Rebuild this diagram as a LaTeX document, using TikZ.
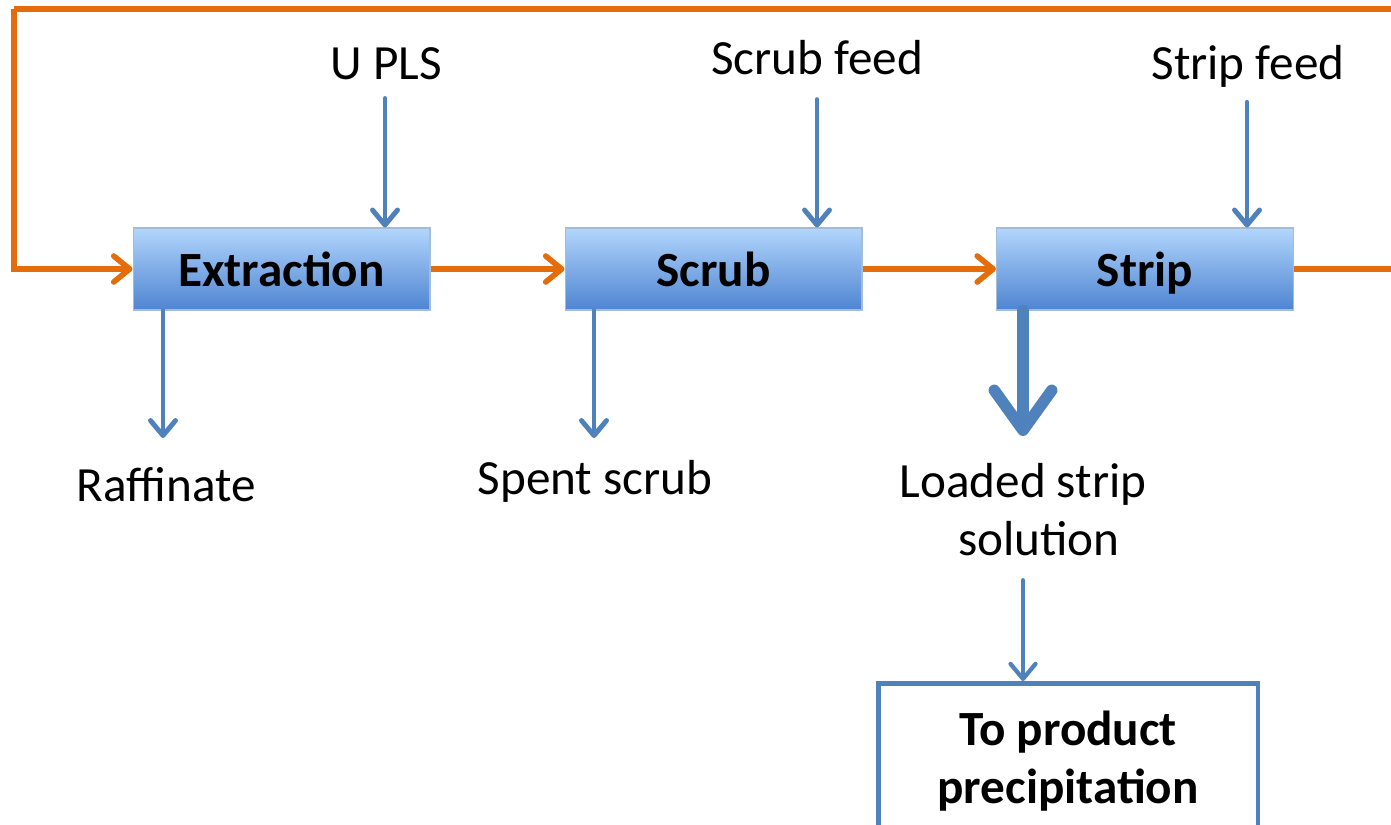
\documentclass[tikz,border=0pt]{standalone}
\usepackage{fontspec}
\setmainfont{Carlito}
\usetikzlibrary{arrows.meta,positioning}
\definecolor{flowblue}{RGB}{79,129,189}
\definecolor{flowred}{RGB}{228,108,10}
\definecolor{boxtop}{RGB}{178,214,252}
\definecolor{boxmid}{RGB}{140,188,245}
\definecolor{boxbot}{RGB}{78,132,210}
\begin{document}
\begin{tikzpicture}[x=0.02cm,y=-0.02cm,font=\fontsize{28}{33}\selectfont,
        stage/.style={minimum width=5.94cm,minimum height=1.64cm,draw=boxtop!70!gray,
            line width=0.6pt,top color=boxtop,middle color=boxmid,bottom color=boxbot,
            text height=0.8cm,text depth=0.08cm,
            font=\fontsize{28}{33}\selectfont\bfseries},
        feed/.style={draw=flowblue,line width=2.8pt,line cap=round,
            -{Straight Barb[length=0.3cm,width=0.5cm,round]}},
        organic/.style={draw=flowred,line width=3.2pt,
            -{Straight Barb[length=0.32cm,width=0.52cm,round]}},
        label/.style={inner sep=0pt}]
    \useasboundingbox (0,0) rectangle (1391,824);
    \clip (0,0) rectangle (1391,824);
    % stages
    \node[stage] (extraction) at (281.5,269) {Extraction};
    \node[stage] (scrub) at (713.5,269) {Scrub};
    \node[stage] (strip) at (1145,269) {Strip};
    % streams in and out
    \node[label] (upls) at (386,64) {U PLS};
    \node[label] (scrubfeed) at (817,58) {Scrub feed};
    \node[label,anchor=base] (stripfeed) at (1248,80) {Strip feed};
    \node[label] (raffinate) at (166,485) {Raffinate};
    \node[label,anchor=base] (spent) at (595,494) {Spent scrub};
    \node[label,align=center,anchor=north] (loaded) at (1023,463)
        {Loaded strip\\\hspace*{0.64cm}solution};
    \node[draw=flowblue,line width=2.8pt,minimum width=7.6cm,minimum height=3.1cm,
        align=center,font=\fontsize{28}{33}\selectfont\bfseries,anchor=north]
        (product) at (1068,681) {To product\\precipitation};
    \coordinate (corner) at (14,9);
    \coordinate (raffout) at (163,438);
    \coordinate (spentout) at (594,438);
    \draw[feed] (upls.south) ++(-1,18) -- (extraction.north -| 385,0);
    \draw[feed] (scrubfeed.south) ++(0,24) -- (scrubfeed |- scrub.north);
    \draw[feed] (stripfeed.south) ++(-1,14) -- (strip.north -| 1247,0);
    \draw[feed] (extraction.south -| raffout) -- (raffout);
    \draw[feed] (scrub.south -| spentout) -- (spentout);
    \draw[draw=flowblue,line width=6.5pt,line cap=round,
        -{Straight Barb[length=0.8cm,width=1.15cm,round]}]
        (strip.south -| 1023,0) -- (1023,436);
    \draw[feed,line width=2.4pt] (loaded.south) ++(0,24) -- (loaded.south |- product.north);
    % organic loop
    \draw[organic] (extraction.east) -- (scrub.west);
    \draw[organic] (scrub.east) -- (strip.west);
    \draw[organic,-] (strip.east) -- (1400,269) -- (1400,9) -- (corner);
    \draw[organic] (corner) -- (corner |- extraction.west) -- (extraction.west);
\end{tikzpicture}
\end{document}
